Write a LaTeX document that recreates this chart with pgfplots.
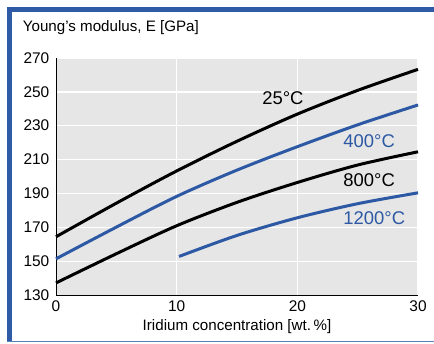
\documentclass[border=0pt]{standalone}
\usepackage{fontspec}
\setmainfont{Liberation Sans}
\usepackage{pgfplots}
\pgfplotsset{compat=1.18}

\definecolor{frameblue}{HTML}{2E5AA6}
\definecolor{lightframe}{HTML}{5B80C0}
\definecolor{curveblue}{HTML}{2C58A4}
\definecolor{plotbg}{HTML}{E6E6E6}

\begin{document}
\begin{tikzpicture}[x=1bp,y=1bp]
  % page and frame
  \useasboundingbox (0,0) rectangle (434,343);
  \fill[white] (0,0) rectangle (434,343);
  \fill[frameblue] (7,331) rectangle (434,336);
  \fill[frameblue] (7,1) rectangle (12,336);
  \draw[lightframe, line width=1bp] (7,1.3) -- (434,1.3);

  \node[anchor=west, font=\fontsize{15.2}{18}\selectfont, inner sep=0pt]
    at (22.7,315) {Young’s modulus, E [GPa]};

  \begin{axis}[
    at={(56bp,47.7bp)}, anchor=south west,
    scale only axis, width=362bp, height=237.5bp,
    xmin=0, xmax=30, ymin=130, ymax=270,
    xtick={0,10,20,30}, ytick={130,150,...,270},
    axis background/.style={fill=plotbg},
    grid=major,
    major grid style={white, line width=1.6bp},
    major tick length=0pt,
    axis x line*=bottom, axis y line*=left,
    axis line style={black, line width=0.8bp, -},
    tick label style={font=\fontsize{15.5}{18}\selectfont},
    /pgf/number format/assume math mode=true,
    xticklabel style={anchor=north, inner sep=0pt, yshift=-5bp},
    yticklabel style={anchor=east, inner sep=0pt, xshift=-6.5bp},
    xlabel={Iridium concentration [wt.\,\%]},
    xlabel style={font=\fontsize{15.2}{18}\selectfont, inner sep=0pt, at={(rel axis cs:0.5,0)}, anchor=center, yshift=-31bp},
    clip=false,
  ]
    % 25 C
    \addplot[black, line width=3bp, smooth] coordinates {
      (0,164.5) (5,184.3) (10,203.3) (15,220.8) (20,236.8) (25,250.8) (30,263.2)};
    % 400 C
    \addplot[curveblue, line width=3bp, smooth] coordinates {
      (0,151.5) (5,170.2) (10,188.3) (15,203.8) (20,217.6) (25,230.5) (30,242.2)};
    % 800 C
    \addplot[black, line width=3bp, smooth] coordinates {
      (0,137.3) (5,154.5) (10,171) (15,184.8) (20,196.5) (25,206.8) (30,214.6)};
    % 1200 C
    \addplot[curveblue, line width=3bp, smooth] coordinates {
      (10.2,152.9) (15,165.3) (20,175.7) (25,184) (30,190.4)};

    \node[font=\fontsize{18.5}{20}\selectfont, inner sep=0pt, black] at (axis cs:18.8,246) {25°C};
    \node[font=\fontsize{18.5}{20}\selectfont, inner sep=0pt, anchor=west, text=curveblue] at (axis cs:23.8,220.9) {400°C};
    \node[font=\fontsize{18.5}{20}\selectfont, inner sep=0pt, anchor=west, black] at (axis cs:23.8,197.9) {800°C};
    \node[font=\fontsize{18.5}{20}\selectfont, inner sep=0pt, anchor=west, text=curveblue] at (axis cs:23.8,175.5) {1200°C};
  \end{axis}
\end{tikzpicture}
\end{document}
